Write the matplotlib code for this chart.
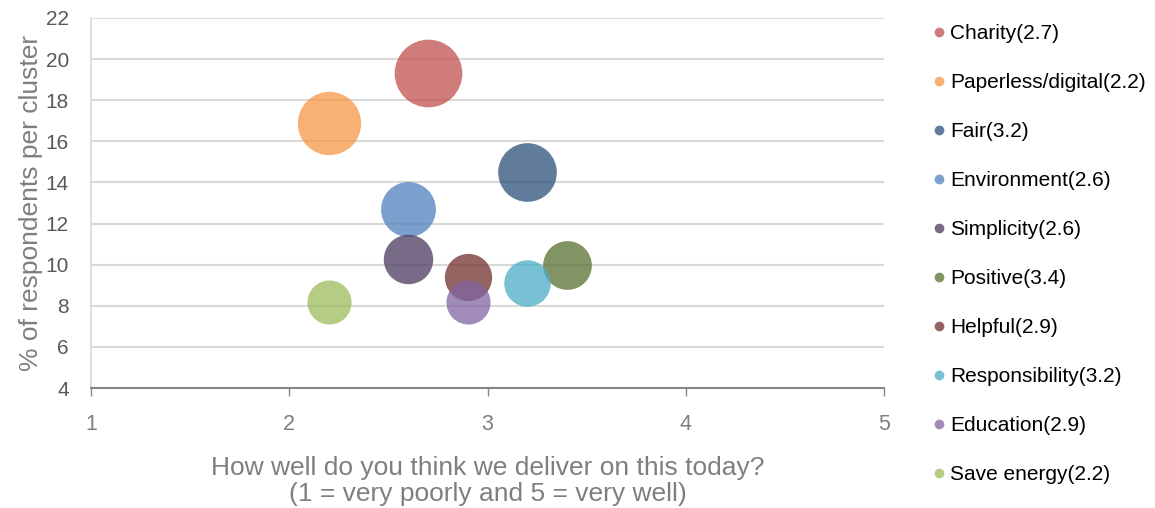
import numpy as np
import matplotlib.pyplot as plt
from matplotlib.lines import Line2D

# clusters: delivery score (x), % of respondents (y); bubble size follows y
clusters = ['Charity', 'Paperless/digital', 'Fair', 'Environment', 'Simplicity',
            'Positive', 'Helpful', 'Responsibility', 'Education', 'Save energy']
score = [2.7, 2.2, 3.2, 2.6, 2.6, 3.4, 2.9, 3.2, 2.9, 2.2]
share = [19.3, 16.9, 14.5, 12.7, 10.3, 10.0, 9.4, 9.1, 8.2, 8.2]
colors = ['#C0504D', '#F79646', '#2C4F78', '#4F81BD', '#4A3A60',
          '#5A7030', '#72302D', '#4BACC6', '#8064A2', '#9BBB59']

font = ['Liberation Sans', 'DejaVu Sans']
grey = '#7F7F7F'

fig = plt.figure(figsize=(11.55, 5.08), dpi=100)
ax = fig.add_axes([91/1155, 1 - 388/508, (884 - 91)/1155, (388 - 18)/508])

for name, x, y, c in zip(clusters, score, share, colors):
    ax.scatter(x, y, s=123 * y, color=c, alpha=0.75, linewidths=0, zorder=3)

ax.set_xlim(1, 5)
ax.set_ylim(4, 22)
ax.set_xticks([1, 2, 3, 4, 5])
ax.set_yticks(np.arange(4, 23, 2))
ax.yaxis.grid(True, color='#D9D9D9', linewidth=1.5)
ax.set_axisbelow(True)

for s in ['top', 'right']:
    ax.spines[s].set_visible(False)
ax.spines['left'].set_color('#D9D9D9')
ax.spines['left'].set_linewidth(1.2)
ax.spines['bottom'].set_color('#868686')
ax.spines['bottom'].set_linewidth(1.5)
ax.tick_params(axis='y', length=0, pad=16, labelsize=15, labelcolor='#595959')
ax.tick_params(axis='x', length=6, width=1, color='#868686', pad=13,
               labelsize=15.5, labelcolor=grey)
for lab in ax.get_xticklabels() + ax.get_yticklabels():
    lab.set_family(font)

ax.set_ylabel('% of respondents per cluster', fontsize=19, color=grey,
              family=font, labelpad=2)
ax.set_xlabel('How well do you think we deliver on this today?\n(1 = very poorly and 5 = very well)',
              fontsize=19, color=grey, family=font, labelpad=15,
              linespacing=1.08)

handles = [Line2D([], [], marker='o', linestyle='', markersize=7,
                  markerfacecolor=c, markeredgewidth=0, alpha=0.75)
           for c in colors]
labels = [f'{n}({x})' for n, x in zip(clusters, score)]
fig.legend(handles, labels, loc='upper left', bbox_to_anchor=(928/1155, 1 - 18/508),
           frameon=False, handlelength=0.5, handletextpad=0.25,
           labelspacing=1.44, borderaxespad=0, borderpad=0.3,
           prop={'family': font, 'size': 15})

fig.savefig('out.png', dpi=100)
